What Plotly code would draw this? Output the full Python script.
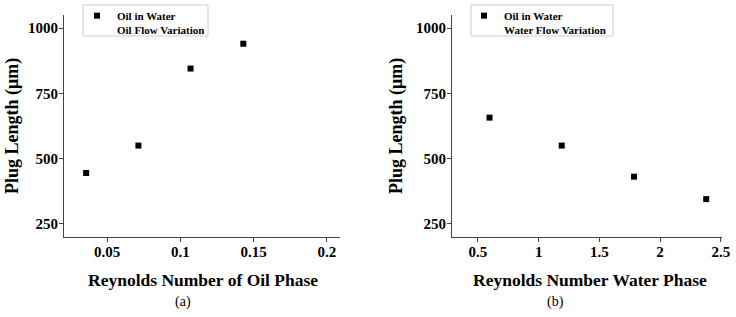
import plotly.graph_objects as go

# Panel (a): oil flow variation
re_oil = [0.0357, 0.0714, 0.107, 0.143]
plug_oil = [445, 550, 845, 940]
# Panel (b): water flow variation
re_water = [0.595, 1.19, 1.785, 2.38]
plug_water = [657, 550, 431, 345]

y_ticks = [250, 500, 750, 1000]
xa_ticks = [0.05, 0.1, 0.15, 0.2]
xa_labels = ["0.05", "0.1", "0.15", "0.2"]
xb_ticks = [0.5, 1, 1.5, 2, 2.5]
xb_labels = ["0.5", "1", "1.5", "2", "2.5"]

W, H = 736, 317
FONT = "Liberation Serif"

def px(x):
    return x / W

def py(y):
    return 1 - y / H

fig = go.Figure()
fig.add_trace(go.Scatter(
    x=re_oil, y=plug_oil, mode="markers", xaxis="x", yaxis="y",
    name="<b>Oil in Water</b><br><b>Oil Flow Variation</b>",
    marker=dict(symbol="square", size=6, color="black"),
    legend="legend",
))
fig.add_trace(go.Scatter(
    x=re_water, y=plug_water, mode="markers", xaxis="x2", yaxis="y2",
    name="<b>Oil in Water</b><br><b>Water Flow Variation</b>",
    marker=dict(symbol="square", size=6, color="black"),
    legend="legend2",
))

axis_common = dict(
    showgrid=False, zeroline=False, showline=True, linecolor="#444",
    linewidth=1, ticks="outside", ticklen=4, tickcolor="#444",
    tickfont=dict(family=FONT, size=15, color="black"),
    automargin=False,
)

legend_common = dict(
    yanchor="top", xanchor="left", y=py(2),
    borderwidth=0, bgcolor="rgba(0,0,0,0)",
    font=dict(family=FONT, size=11, color="black"),
    itemwidth=30, valign="top", tracegroupgap=0,
)

fig.update_layout(
    width=W, height=H,
    margin=dict(l=0, r=0, t=0, b=0),
    paper_bgcolor="white", plot_bgcolor="white",
    font=dict(family=FONT, color="black"),
    xaxis=dict(domain=[px(64), px(340)], range=[0.0206, 0.209], anchor="y",
               tickvals=xa_ticks, ticktext=[f"<b>{t}</b>" for t in xa_labels],
               ticklabelstandoff=-3, **axis_common),
    yaxis=dict(domain=[py(237), py(15)], range=[200, 1050], anchor="x",
               tickvals=y_ticks, ticktext=[f"<b>{t}</b>" for t in y_ticks],
               ticklabelstandoff=-2, **axis_common),
    xaxis2=dict(domain=[px(452), px(722)], range=[0.286, 2.51], anchor="y2",
                tickvals=xb_ticks, ticktext=[f"<b>{t}</b>" for t in xb_labels],
                ticklabelstandoff=-3, **axis_common),
    yaxis2=dict(domain=[py(237), py(15)], range=[200, 1050], anchor="x2",
                tickvals=y_ticks, ticktext=[f"<b>{t}</b>" for t in y_ticks],
                ticklabelstandoff=-2, **axis_common),
    legend=dict(x=px(77), **legend_common),
    legend2=dict(x=px(464), **legend_common),
    showlegend=True,
)

# legend frames
for x0, x1 in [(83, 208), (471, 613)]:
    fig.add_shape(type="rect", xref="paper", yref="paper",
                  x0=px(x0), x1=px(x1), y0=py(36), y1=py(5),
                  line=dict(color="#cccccc", width=1), fillcolor="rgba(0,0,0,0)",
                  layer="below")

ann = [
    dict(text="<b>Plug Length (μm)</b>", x=px(13), y=py(126), textangle=-90, size=18),
    dict(text="<b>Plug Length (μm)</b>", x=px(397), y=py(126), textangle=-90, size=18),
    dict(text="<b>Reynolds Number of Oil Phase</b>", x=px(203), y=py(280), textangle=0, size=17.5),
    dict(text="<b>Reynolds Number Water Phase</b>", x=px(590), y=py(280), textangle=0, size=17.5),
    dict(text="(a)", x=px(183), y=py(302), textangle=0, size=14),
    dict(text="(b)", x=px(555), y=py(302), textangle=0, size=14),
]
for a in ann:
    fig.add_annotation(text=a["text"], x=a["x"], y=a["y"], xref="paper", yref="paper",
                       xanchor="center", yanchor="middle", showarrow=False,
                       textangle=a["textangle"],
                       font=dict(family=FONT, size=a["size"], color="black"))

fig.write_html("out.html", config={"displayModeBar": False},
               post_script="document.body.style.margin='0';document.body.style.overflow='hidden';")
